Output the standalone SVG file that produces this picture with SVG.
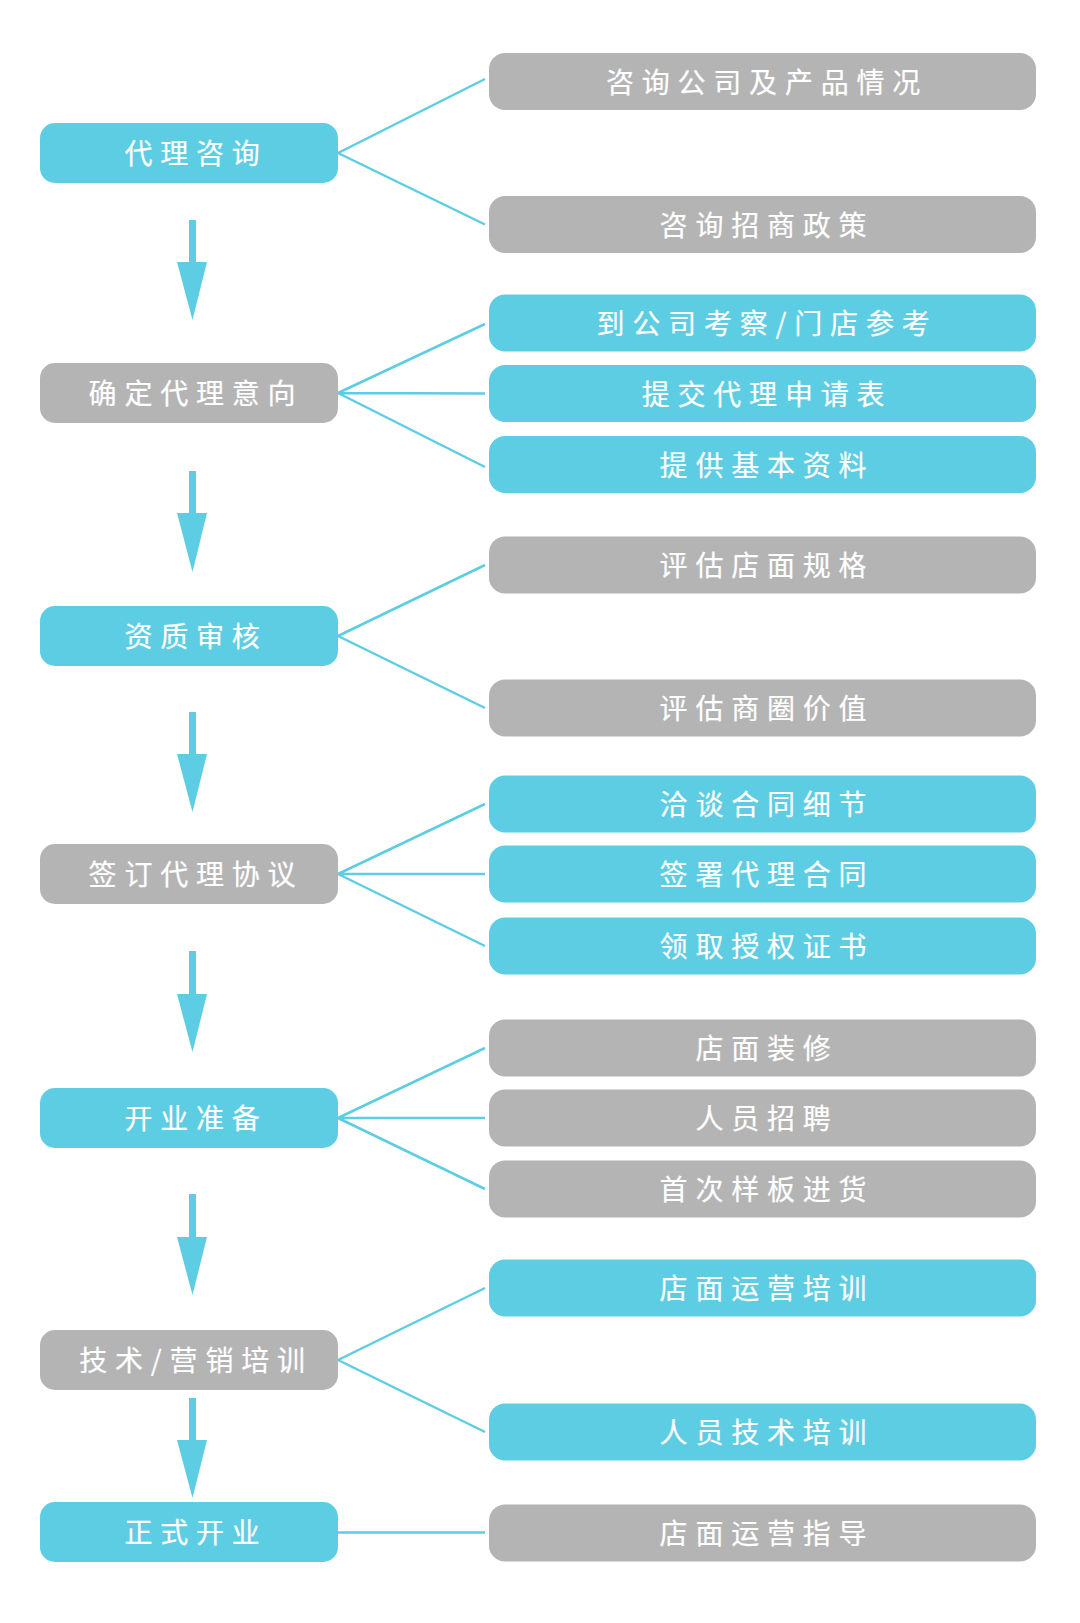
<svg xmlns="http://www.w3.org/2000/svg" width="1080" height="1623" viewBox="0 0 1080 1623">
<style>
.c{fill:#5dcde3}
.g{fill:#b4b4b5}
.t{font-family:"Noto Sans CJK SC","Noto Sans",sans-serif;font-size:28px;font-weight:400;fill:#ffffff;stroke:#ffffff;stroke-width:0.2;letter-spacing:7.8px;text-anchor:middle;dominant-baseline:central}
.ln{stroke:#5dcde3;stroke-width:2.5;fill:none}
.ar{fill:#5dcde3}
</style>
<rect width="1080" height="1623" fill="#ffffff"/>
<g id="connectors">
<path class="ln" d="M338 153L485 79M338 153L485 224.5"/>
<path class="ln" d="M338 393L485 324M338 393L485 393.5M338 393L485 467"/>
<path class="ln" d="M338 636L485 565M338 636L485 708"/>
<path class="ln" d="M338 874L485 804M338 874L485 874M338 874L485 946"/>
<path class="ln" d="M338 1118L485 1048M338 1118L485 1118M338 1118L485 1189"/>
<path class="ln" d="M338 1360L485 1288M338 1360L485 1432"/>
<path class="ln" d="M338 1532.5L485 1532.5"/>
<g class="ar">
<path d="M189 220H196V262H207L192.5 320L177 262H189Z"/>
<path d="M189 471H196V513H207L192.5 572L177 513H189Z"/>
<path d="M189 712H196V754H207L192.5 812L177 754H189Z"/>
<path d="M189 951H196V994H207L192.5 1052L177 994H189Z"/>
<path d="M189 1194H196V1237H207L192.5 1295L177 1237H189Z"/>
<path d="M189 1398H196V1440H207L192.5 1498L177 1440H189Z"/>
</g>
</g>
<g id="n_L1"><rect class="c" x="40" y="123" width="298" height="60" rx="15"/><text class="t" x="196" y="152">代理咨询</text></g>
<g id="n_L2"><rect class="g" x="40" y="363" width="298" height="60" rx="15"/><text class="t" x="196" y="392">确定代理意向</text></g>
<g id="n_L3"><rect class="c" x="40" y="606" width="298" height="60" rx="15"/><text class="t" x="196" y="635">资质审核</text></g>
<g id="n_L4"><rect class="g" x="40" y="844" width="298" height="60" rx="15"/><text class="t" x="196" y="873">签订代理协议</text></g>
<g id="n_L5"><rect class="c" x="40" y="1088" width="298" height="60" rx="15"/><text class="t" x="196" y="1117">开业准备</text></g>
<g id="n_L6"><rect class="g" x="40" y="1330" width="298" height="60" rx="15"/><text class="t" x="196" y="1359">技术/营销培训</text></g>
<g id="n_L7"><rect class="c" x="40" y="1502" width="298" height="60" rx="15"/><text class="t" x="196" y="1531">正式开业</text></g>
<g id="n_R1"><rect class="g" x="489" y="53" width="547" height="57" rx="16"/><text class="t" x="767" y="80.5">咨询公司及产品情况</text></g>
<g id="n_R2"><rect class="g" x="489" y="196" width="547" height="57" rx="16"/><text class="t" x="767" y="223.5">咨询招商政策</text></g>
<g id="n_R3"><rect class="c" x="489" y="294.5" width="547" height="57" rx="16"/><text class="t" x="767" y="322">到公司考察/门店参考</text></g>
<g id="n_R4"><rect class="c" x="489" y="365" width="547" height="57" rx="16"/><text class="t" x="767" y="392.5">提交代理申请表</text></g>
<g id="n_R5"><rect class="c" x="489" y="436" width="547" height="57" rx="16"/><text class="t" x="767" y="463.5">提供基本资料</text></g>
<g id="n_R6"><rect class="g" x="489" y="536.5" width="547" height="57" rx="16"/><text class="t" x="767" y="564">评估店面规格</text></g>
<g id="n_R7"><rect class="g" x="489" y="679.5" width="547" height="57" rx="16"/><text class="t" x="767" y="707">评估商圈价值</text></g>
<g id="n_R8"><rect class="c" x="489" y="775.5" width="547" height="57" rx="16"/><text class="t" x="767" y="803">洽谈合同细节</text></g>
<g id="n_R9"><rect class="c" x="489" y="845.5" width="547" height="57" rx="16"/><text class="t" x="767" y="873">签署代理合同</text></g>
<g id="n_R10"><rect class="c" x="489" y="917.5" width="547" height="57" rx="16"/><text class="t" x="767" y="945">领取授权证书</text></g>
<g id="n_R11"><rect class="g" x="489" y="1019.5" width="547" height="57" rx="16"/><text class="t" x="767" y="1047">店面装修</text></g>
<g id="n_R12"><rect class="g" x="489" y="1089.5" width="547" height="57" rx="16"/><text class="t" x="767" y="1117">人员招聘</text></g>
<g id="n_R13"><rect class="g" x="489" y="1160.5" width="547" height="57" rx="16"/><text class="t" x="767" y="1188">首次样板进货</text></g>
<g id="n_R14"><rect class="c" x="489" y="1259.5" width="547" height="57" rx="16"/><text class="t" x="767" y="1287">店面运营培训</text></g>
<g id="n_R15"><rect class="c" x="489" y="1403.5" width="547" height="57" rx="16"/><text class="t" x="767" y="1431">人员技术培训</text></g>
<g id="n_R16"><rect class="g" x="489" y="1504.5" width="547" height="57" rx="16"/><text class="t" x="767" y="1532">店面运营指导</text></g>
</svg>
